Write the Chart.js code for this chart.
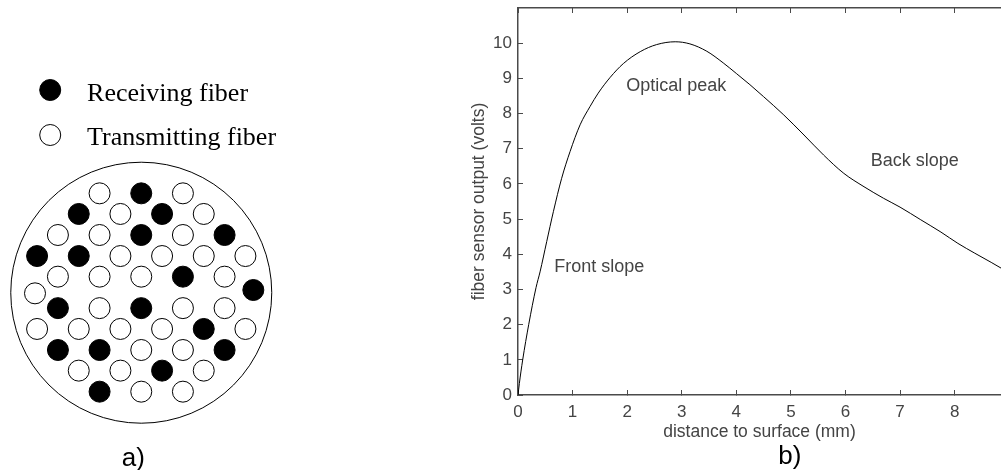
<!DOCTYPE html>
<html>
<head>
<meta charset="utf-8">
<script src="https://cdn.jsdelivr.net/npm/chart.js@4"></script>
<style>
html, body { margin: 0; padding: 0; background: #fff; overflow: hidden; }
#wrap { position: relative; width: 1001px; height: 470px; }
canvas { position: absolute; top: 0; left: 0; }
</style>
</head>
<body>
<div id="wrap">
  <canvas id="curveChart" width="1001" height="470"></canvas>
  <canvas id="bundleChart" width="300" height="470"></canvas>
</div>
<script>
// b) sensor curve
const distance = [0, 0.025, 0.086, 0.196, 0.33, 0.404, 0.526, 0.648, 0.8, 0.954, 1.138, 1.32, 1.47, 1.69, 1.93, 2.24, 2.54, 2.88, 3.15, 3.46, 3.76, 4.0, 4.25, 4.5, 4.87, 5.24, 5.6, 5.97, 6.34, 6.7, 7.0, 7.38, 7.75, 8.06, 8.37, 8.67, 8.87]
const output = [0, 0.33, 1, 2, 3.05, 3.5, 4.36, 5.21, 6.16, 6.92, 7.68, 8.2, 8.58, 9.03, 9.42, 9.76, 9.96, 10.04, 9.98, 9.77, 9.44, 9.14, 8.82, 8.48, 7.96, 7.39, 6.82, 6.3, 5.92, 5.59, 5.34, 4.98, 4.63, 4.31, 4.03, 3.77, 3.59]
const curveNotes = ['Optical peak', 'Front slope', 'Back slope', 'b)']
const curveNoteX = [2.9, 1.49, 7.27, 4.98]
const curveNoteY = [8.77, 3.65, 6.65, -1.76]

// a) fiber bundle, in units of half the fiber pitch from the bundle centre
const receivingX = [0, -3, 1, 0, 4, -5, -3, 2, 5.38, -4, 0, 3, -4, -2, 4, 1, -2]
const receivingY = [4.77, 3.78, 3.78, 2.77, 2.77, 1.76, 1.76, 0.77, 0.13, -0.74, -0.74, -1.74, -2.75, -2.75, -2.75, -3.74, -4.75]
const transmittingX = [-2, 2, -1, 3, -4, -2, 2, -1, 1, 3, 5, -4, -2, 0, 4, -5.1, -2, 2, 4, -5, -3, -1, 1, 5, 0, 2, -3, -1, 3, 0, 2]
const transmittingY = [4.77, 4.77, 3.78, 3.78, 2.77, 2.77, 2.77, 1.76, 1.76, 1.76, 1.76, 0.77, 0.77, 0.77, 0.77, -0.03, -0.74, -0.74, -0.74, -1.74, -1.74, -1.74, -1.74, -1.74, -2.75, -2.75, -3.74, -3.74, -3.74, -4.75, -4.75]
const legendX = [-4.37, -4.37]
const legendY = [9.73, 7.57]
const bundleNotes = ['Receiving fiber', 'Transmitting fiber', 'a)']
const bundleNoteX = [-2.6, -2.6, -0.38]
const bundleNoteY = [9.55, 7.42, -7.95]

const axisColor = '#4a4a4a'
const textColor = '#444'

function toPoints(xs, ys) {
    return xs.map((x, i) => ({ x: x, y: ys[i] }))
}

// writes short labels at data positions
const notesPlugin = {
    id: 'notes',
    afterDraw(chart, args, opts) {
        const ctx = chart.ctx
        ctx.save()
        ctx.textBaseline = 'middle'
        opts.texts.forEach((t, i) => {
            const big = t.endsWith(')')
            ctx.font = big ? '26px "Liberation Sans"' : opts.font
            ctx.fillStyle = big ? '#000' : opts.color
            ctx.textAlign = big ? 'center' : opts.align
            const px = chart.scales[opts.xId].getPixelForValue(opts.xs[i])
            const py = chart.scales[opts.yId].getPixelForValue(opts.ys[i])
            ctx.fillText(t, px, py)
        })
        ctx.restore()
    }
}

new Chart(document.getElementById('curveChart'), {
    type: 'line',
    plugins: [notesPlugin],
    data: {
        datasets: [{
            data: toPoints(distance, output),
            borderColor: '#000',
            borderWidth: 1,
            pointRadius: 0,
            cubicInterpolationMode: 'monotone'
        }]
    },
    options: {
        responsive: false,
        animation: false,
        layout: { autoPadding: false, padding: { top: 8, left: 0, right: 0, bottom: 0 } },
        plugins: {
            legend: { display: false },
            tooltip: { enabled: false },
            notes: {
                texts: curveNotes, xs: curveNoteX, ys: curveNoteY, xId: 'x', yId: 'y',
                align: 'center', font: '18px "Liberation Sans"', color: textColor
            }
        },
        scales: {
            x: {
                type: 'linear', position: 'bottom', min: 0, max: 8.85,
                afterFit(s) { s.height = 75; s.paddingLeft = 0; s.paddingRight = 0 },
                border: { color: axisColor, width: 1.5 },
                grid: { drawOnChartArea: false, tickLength: -5, tickColor: axisColor },
                ticks: {
                    stepSize: 1, includeBounds: false, maxRotation: 0, autoSkip: false, padding: 12,
                    color: textColor, font: { family: 'Liberation Sans', size: 17 }
                },
                title: {
                    display: true, text: 'distance to surface (mm)', color: textColor,
                    font: { family: 'Liberation Sans', size: 17.5 }, padding: { top: 0, bottom: 27 }
                }
            },
            xTop: {
                type: 'linear', position: 'top', min: 0, max: 8.85,
                afterFit(s) { s.height = 0; s.paddingLeft = 0; s.paddingRight = 0 },
                border: { color: axisColor, width: 1.5 },
                grid: { drawOnChartArea: false, tickLength: -5, tickColor: axisColor },
                ticks: { stepSize: 1, includeBounds: false, display: false }
            },
            y: {
                type: 'linear', position: 'left', min: 0, max: 11,
                afterFit(s) { s.width = 518; s.paddingTop = 0; s.paddingBottom = 0 },
                // the top of the axis carries no tick or label in the reference
                afterBuildTicks(s) { s.ticks = s.ticks.filter(t => t.value <= 10) },
                border: { color: axisColor, width: 1.5 },
                grid: { drawOnChartArea: false, tickLength: -5, tickColor: axisColor },
                ticks: {
                    stepSize: 1, includeBounds: false, padding: 11,
                    color: textColor, font: { family: 'Liberation Sans', size: 17 }
                },
                title: {
                    display: true, text: 'fiber sensor output (volts)', color: textColor,
                    font: { family: 'Liberation Sans', size: 17.5 }, padding: { top: 469, bottom: 0 }
                }
            }
        }
    }
})

new Chart(document.getElementById('bundleChart'), {
    type: 'scatter',
    plugins: [notesPlugin],
    data: {
        datasets: [
            { data: toPoints(receivingX, receivingY), backgroundColor: '#000', borderColor: '#000', borderWidth: 1, pointRadius: 10.5 },
            { data: toPoints(transmittingX, transmittingY), backgroundColor: '#fff', borderColor: '#000', borderWidth: 1, pointRadius: 10.5 },
            { data: [{ x: legendX[0], y: legendY[0] }], backgroundColor: '#000', borderColor: '#000', borderWidth: 1, pointRadius: 10.5 },
            { data: [{ x: legendX[1], y: legendY[1] }], backgroundColor: '#fff', borderColor: '#000', borderWidth: 1, pointRadius: 10.5 },
            // outer sheath of the bundle
            { data: [{ x: 0, y: 0 }], backgroundColor: '#fff', borderColor: '#000', borderWidth: 1, pointRadius: 130.5 }
        ]
    },
    options: {
        responsive: false,
        animation: false,
        layout: { autoPadding: false },
        plugins: {
            legend: { display: false },
            tooltip: { enabled: false },
            notes: {
                texts: bundleNotes, xs: bundleNoteX, ys: bundleNoteY, xId: 'x', yId: 'y',
                align: 'left', font: '26px "Liberation Serif"', color: '#000'
            }
        },
        scales: {
            x: { type: 'linear', display: false, min: -6.78, max: 7.62 },
            y: { type: 'linear', display: false, min: -8.51, max: 14.05 }
        }
    }
})
</script>
</body>
</html>
